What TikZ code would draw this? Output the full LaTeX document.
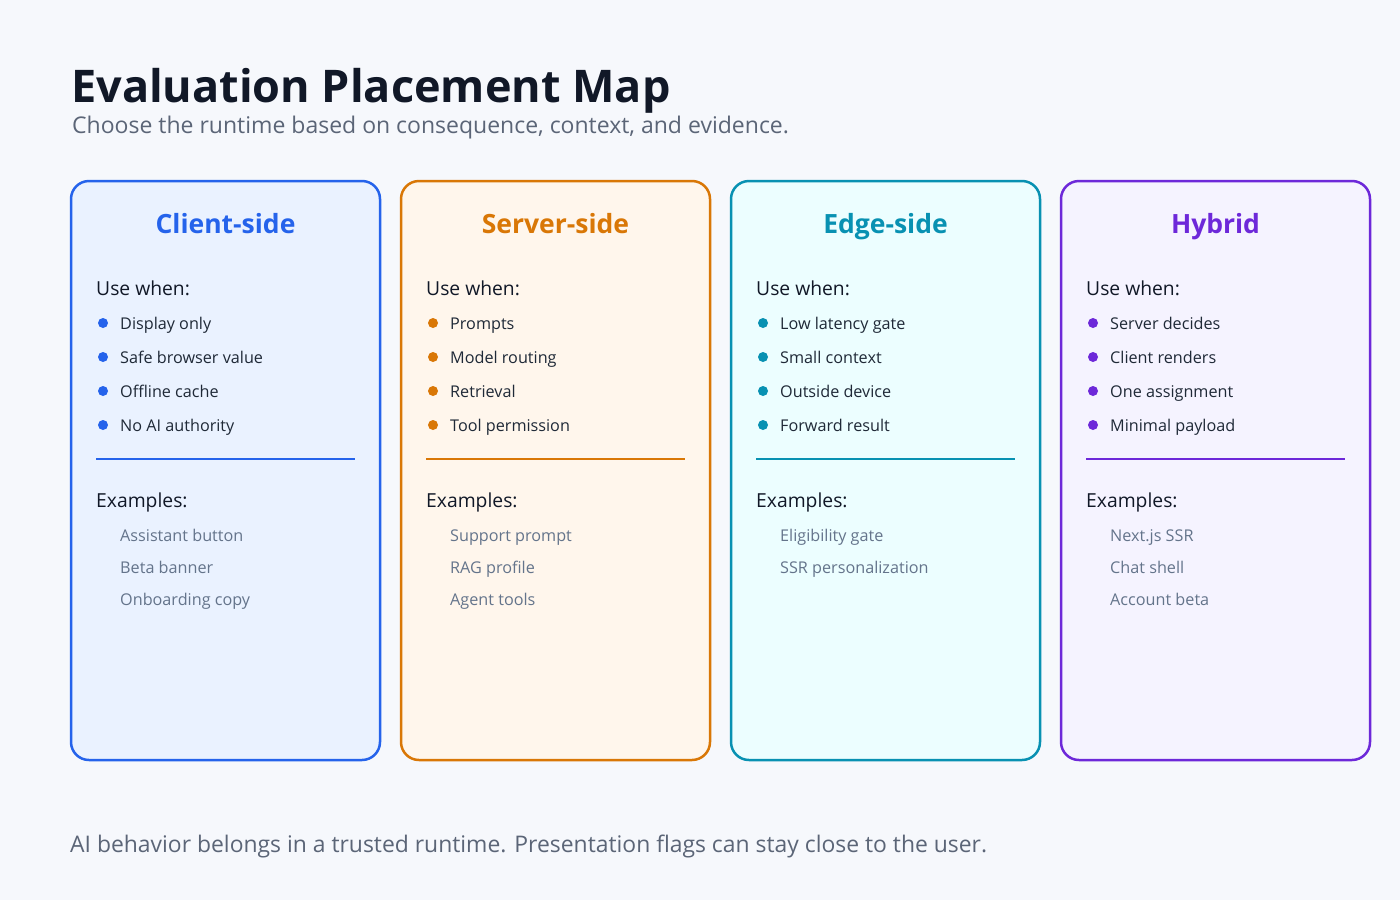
\documentclass[tikz,border=0pt]{standalone}
\usepackage{fontspec}
\setmainfont{Open Sans}
\usetikzlibrary{calc}
\definecolor{bg}{HTML}{F6F8FC}
\definecolor{titlec}{HTML}{111827}
\definecolor{subc}{HTML}{5B6577}
\definecolor{bodyc}{HTML}{1F2937}
\definecolor{exc}{HTML}{64748B}
\definecolor{cblue}{HTML}{2563EB}\definecolor{fblue}{HTML}{EAF2FF}
\definecolor{corange}{HTML}{D97706}\definecolor{forange}{HTML}{FFF6EC}
\definecolor{cteal}{HTML}{0891B2}\definecolor{fteal}{HTML}{ECFEFF}
\definecolor{cpurple}{HTML}{6D28D9}\definecolor{fpurple}{HTML}{F5F3FF}
\tikzset{
  card/.style={draw=#1, line width=2.5pt, rounded corners=18pt},
  cardtitle/.style={anchor=base, font=\fontsize{26.5}{31}\selectfont\bfseries, text=#1, inner sep=0},
  head/.style={anchor=base west, font=\fontsize{19.3}{23}\selectfont, text=titlec, inner sep=0},
  item/.style={anchor=base west, font=\fontsize{16.2}{19}\selectfont, text=bodyc, inner sep=0},
  example/.style={anchor=base west, font=\fontsize{16.2}{19}\selectfont, text=exc, inner sep=0},
  dot/.style={circle, fill=#1, inner sep=0, minimum size=10pt},
}
\newcommand{\mycard}[8]{%
  \begin{scope}[xshift=#1]
    \draw[card=#3, fill=#4] (71,181) rectangle (380,760);
    \node[cardtitle=#3] (#2-title) at (225.5,233) {#5};
    \node[head] (#2-use) at (96,295) {Use when:};
    \foreach \t [count=\i] in {#6} {
      \node[dot=#3] (#2-dot\i) at (103,{323+34*(\i-1)}) {};
      \node[item] (#2-item\i) at (120,{329+34*(\i-1)}) {\t};
    }
    \draw[draw=#3, line width=1.6pt] (96,459) coordinate (#2-sepa) -- (355,459) coordinate (#2-sepb);
    \node[head] (#2-ex) at (96,507) {Examples:};
    \foreach \t [count=\i] in {#7} {
      \node[example] (#2-ex\i) at (120,{541+32*(\i-1)}) {\t};
    }
  \end{scope}}
\begin{document}
\begin{tikzpicture}[x=1pt,y=-1pt]
\fill[bg] (0,0) rectangle (1400,900);
\useasboundingbox (0,0) rectangle (1400,900);
\node[anchor=base west, inner sep=0, text=titlec, font=\fontsize{45}{54}\selectfont\bfseries] (title) at (71,102) {Evaluation Placement Map};
\node[anchor=base west, inner sep=0, text=subc, font=\fontsize{23}{28}\selectfont] (subtitle) at (72,133) {Choose the runtime based on consequence, context, and evidence.};
\mycard{0}{client}{cblue}{fblue}{Client-side}{Display only,Safe browser value,Offline cache,No AI authority}{Assistant button,Beta banner,Onboarding copy}{}
\mycard{330}{server}{corange}{forange}{Server-side}{Prompts,Model routing,Retrieval,Tool permission}{Support prompt,RAG profile,Agent tools}{}
\mycard{660}{edge}{cteal}{fteal}{Edge-side}{Low latency gate,Small context,Outside device,Forward result}{Eligibility gate,SSR personalization}{}
\mycard{990}{hybrid}{cpurple}{fpurple}{Hybrid}{Server decides,Client renders,One assignment,Minimal payload}{Next.js SSR,Chat shell,Account beta}{}
\node[anchor=base west, inner sep=0, text=subc, font=\fontsize{22.9}{28}\selectfont] (footer) at (70,852) {AI behavior belongs in a trusted runtime. Presentation flags can stay close to the user.};
\end{tikzpicture}
\end{document}
